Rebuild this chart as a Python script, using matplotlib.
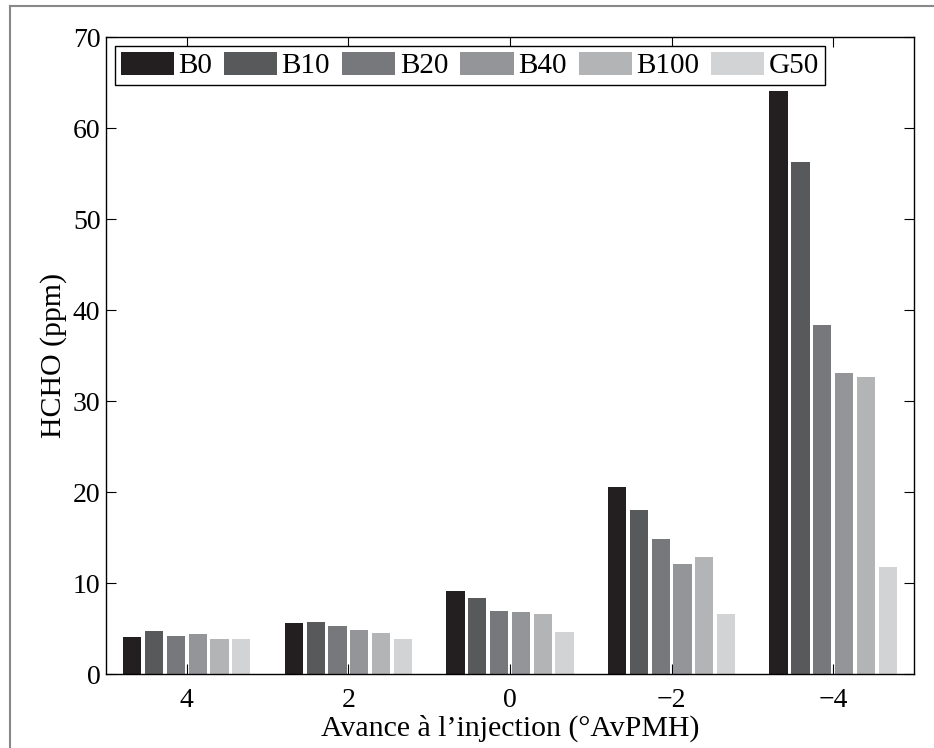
import numpy as np
import matplotlib
matplotlib.use('Agg')
import matplotlib.pyplot as plt
from matplotlib.lines import Line2D

plt.rcParams['font.family'] = ['Liberation Serif', 'DejaVu Serif']
plt.rcParams['axes.unicode_minus'] = True

# data
groups = ['4', '2', '0', '\u22122', '\u22124']
series = ['B0', 'B10', 'B20', 'B40', 'B100', 'G50']
B0 = [4.1, 5.6, 9.15, 20.5, 64.1]
B10 = [4.75, 5.75, 8.3, 18.05, 56.3]
B20 = [4.2, 5.3, 6.95, 14.85, 38.3]
B40 = [4.45, 4.85, 6.85, 12.1, 33.1]
B100 = [3.9, 4.55, 6.65, 12.9, 32.6]
G50 = [3.85, 3.8, 4.65, 6.65, 11.8]
colors = ['#231f20', '#58595b', '#77787b', '#939598', '#b3b4b6', '#d2d3d5']


def main():
    values = [B0, B10, B20, B40, B100, G50]
    fig = plt.figure(figsize=(9.34, 7.48), dpi=100)
    ax = fig.add_axes([0.1135, 0.0989, 0.865, 0.8516])

    x = np.arange(1, len(groups) + 1)
    step = 0.135
    width = 0.113
    for i, (name, vals) in enumerate(zip(series, values)):
        off = (i - (len(series) - 1) / 2) * step
        ax.bar(x + off, vals, width, color=colors[i], label=name, zorder=2)

    ax.set_xlim(0.5, 5.5)
    ax.set_ylim(0, 70)
    ax.set_xticks(x)
    ax.set_xticklabels(groups)
    ax.set_yticks(np.arange(0, 71, 10))
    ax.tick_params(direction='in', length=7, width=0.8, labelsize=20,
                   top=True, right=True)
    ax.tick_params(axis='x', pad=10)
    ax.tick_params(axis='y', pad=4)
    for s in ax.spines.values():
        s.set_linewidth(1.0)
        s.set_zorder(3)

    ax.set_xlabel('Avance à l\u2019injection (°AvPMH)', fontsize=21.5, labelpad=1)
    ax.set_ylabel('HCHO (ppm)', fontsize=21.5, labelpad=4)

    leg = ax.legend(loc='upper left', ncol=6, fontsize=21, frameon=True,
                    fancybox=False, edgecolor='black', framealpha=1,
                    handlelength=1.82, handleheight=0.86, handletextpad=0.15,
                    columnspacing=0.42, borderpad=0.2, borderaxespad=0.3)
    leg.get_frame().set_linewidth(1.0)

    # gray frame around the figure
    fig.add_artist(Line2D([10 / 934, 10 / 934], [0, 1 - 6 / 748],
                          transform=fig.transFigure, color='#888888', lw=1.5))
    fig.add_artist(Line2D([10 / 934, 1], [1 - 6 / 748, 1 - 6 / 748],
                          transform=fig.transFigure, color='#888888', lw=1.5))

    fig.savefig('out.png', dpi=100)


if __name__ == '__main__':
    main()
